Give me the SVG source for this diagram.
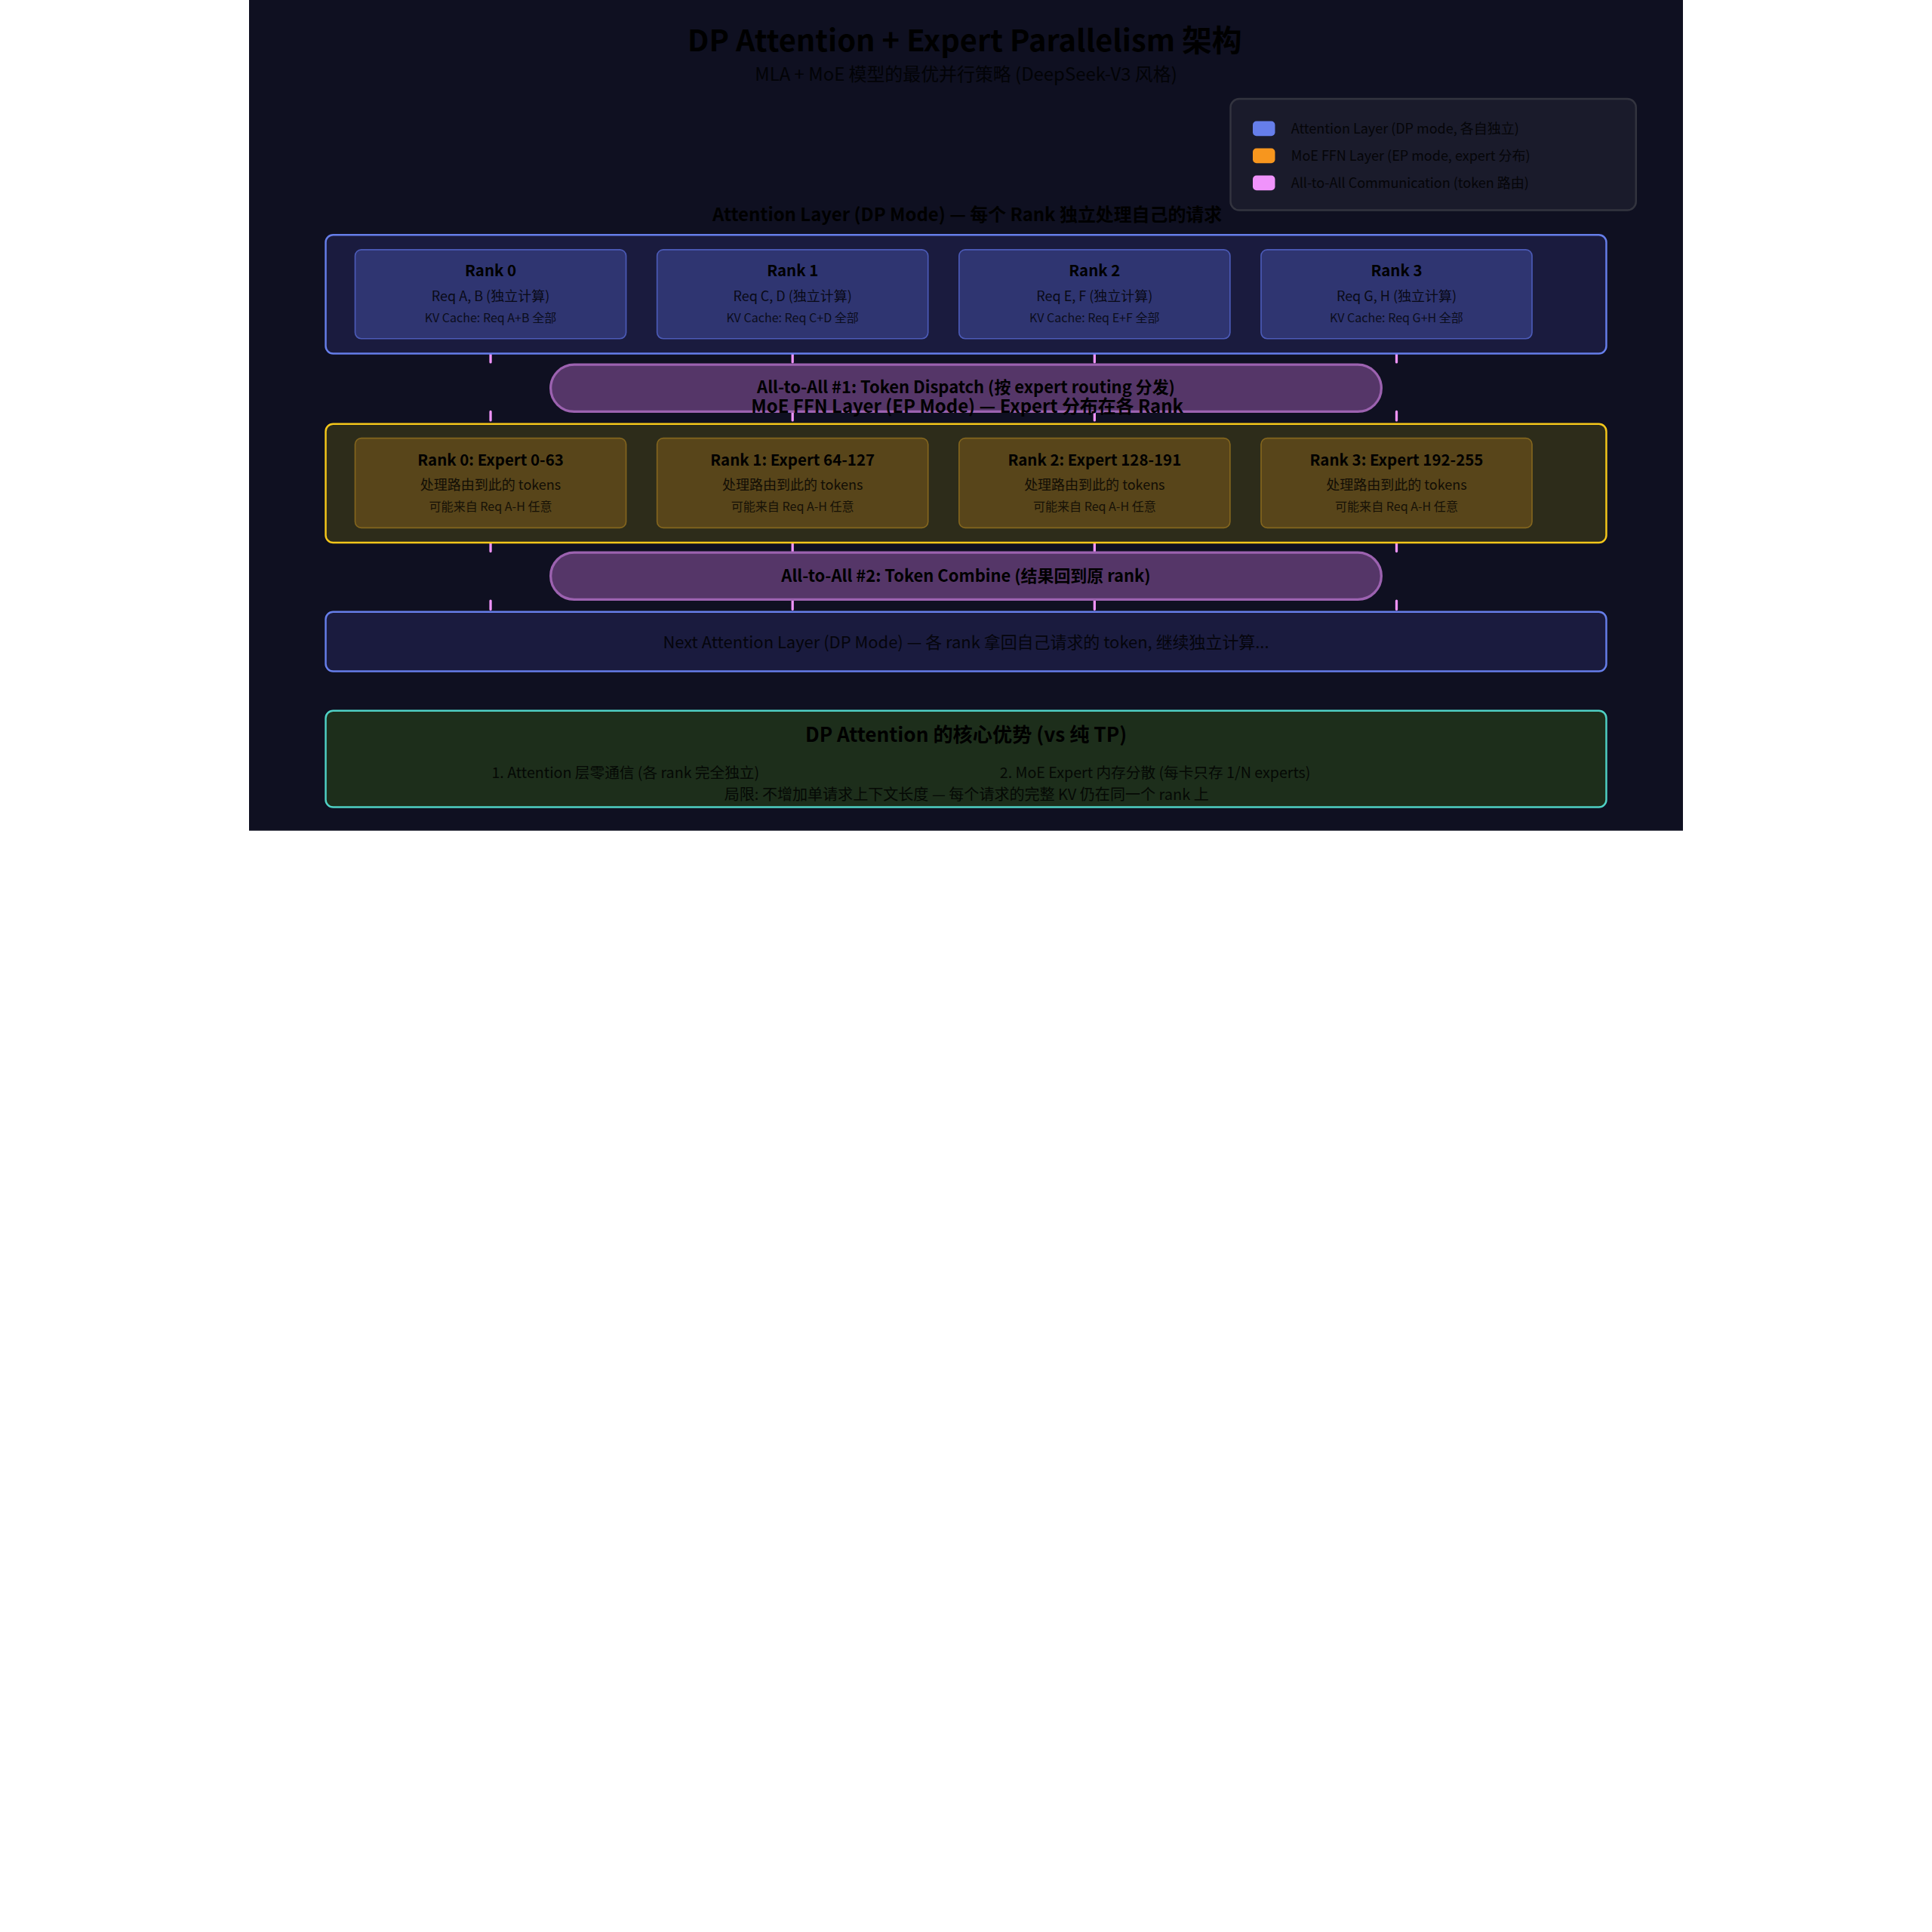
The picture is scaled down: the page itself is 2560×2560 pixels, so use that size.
<svg xmlns="http://www.w3.org/2000/svg" width="2560" height="2560" viewBox="0 0 2560 2560">
<style>
text { font-family: "Noto Sans CJK SC", "Noto Sans", sans-serif; fill: #000; }
.c { text-anchor: middle; }
.title { font-size: 24.3px; font-weight: 700; }
.sub { font-size: 14.6px; opacity: .8; }
.sec { font-size: 14.6px; font-weight: 700; }
.leg { font-size: 11px; opacity: .8; }
.rt { font-size: 12.5px; font-weight: 700; }
.rd { font-size: 11px; opacity: .8; }
.rs { font-size: 9.8px; opacity: .75; }
.pt { font-size: 13.4px; font-weight: 700; }
.nx { font-size: 13.4px; opacity: .8; }
.bt { font-size: 16px; font-weight: 700; }
.bd { font-size: 12px; opacity: .8; }
.bl { font-size: 12.25px; opacity: .8; }
.layer-attn { fill: #1a1b3e; stroke: #667eea; stroke-width: 1.5; }
.layer-moe { fill: #2d2c1a; stroke: #f5c71a; stroke-width: 1.5; }
.rank { fill: #2f3571; stroke: #4c5bb8; stroke-width: 1; }
.expert { fill: #58451a; stroke: #84661e; stroke-width: 1; }
.pill { fill: #553668; stroke: #9c62b0; stroke-width: 2; }
.tick { stroke: #f093fb; stroke-width: 2; stroke-linecap: round; stroke-dasharray: 7 40; fill: none; }
</style>
<rect x="0" y="0" width="2560" height="2560" fill="#ffffff"/>
<g transform="translate(330 0) scale(1.637931)">
  <rect id="background" x="0" y="0" width="1160" height="672" fill="#0f1021"/>

  <g id="title">
    <text class="title c" x="579" y="41.5">DP Attention + Expert Parallelism 架构</text>
    <text class="sub c" x="580" y="65.5">MLA + MoE 模型的最优并行策略 (DeepSeek-V3 风格)</text>
  </g>

  <g id="legend">
    <rect x="794" y="80" width="328" height="90" rx="7" fill="#1a1b2b" stroke="#33343f" stroke-width="1.5"/>
    <rect x="812" y="98" width="18" height="12" rx="3" fill="#667eea"/>
    <text class="leg" x="843" y="108.3">Attention Layer (DP mode, 各自独立)</text>
    <rect x="812" y="120" width="18" height="12" rx="3" fill="#f7961e"/>
    <text class="leg" x="843" y="130.3">MoE FFN Layer (EP mode, expert 分布)</text>
    <rect x="812" y="142" width="18" height="12" rx="3" fill="#f093fb"/>
    <text class="leg" x="843" y="152.3">All-to-All Communication (token 路由)</text>
  </g>

  <g id="connectors">
    <line class="tick" x1="195.4" y1="286" x2="195.4" y2="343"/>
    <line class="tick" x1="439.7" y1="286" x2="439.7" y2="343"/>
    <line class="tick" x1="684" y1="286" x2="684" y2="343"/>
    <line class="tick" x1="928.3" y1="286" x2="928.3" y2="343"/>
    <line class="tick" x1="195.4" y1="439" x2="195.4" y2="495"/>
    <line class="tick" x1="439.7" y1="439" x2="439.7" y2="495"/>
    <line class="tick" x1="684" y1="439" x2="684" y2="495"/>
    <line class="tick" x1="928.3" y1="439" x2="928.3" y2="495"/>
  </g>

  <g id="attention-layer">
    <text class="sec c" x="581" y="179">Attention Layer (DP Mode) — 每个 Rank 独立处理自己的请求</text>
    <rect class="layer-attn" x="62" y="190" width="1036" height="96" rx="6"/>
  </g>
  <g id="attn-rank0">
    <rect class="rank" x="85.8" y="202" width="219.2" height="72" rx="5"/>
    <text class="rt c" x="195.4" y="223.5">Rank 0</text>
    <text class="rd c" x="195.4" y="243.5">Req A, B (独立计算)</text>
    <text class="rs c" x="195.4" y="260.5">KV Cache: Req A+B 全部</text>
  </g>
  <g id="attn-rank1">
    <rect class="rank" x="330.1" y="202" width="219.2" height="72" rx="5"/>
    <text class="rt c" x="439.7" y="223.5">Rank 1</text>
    <text class="rd c" x="439.7" y="243.5">Req C, D (独立计算)</text>
    <text class="rs c" x="439.7" y="260.5">KV Cache: Req C+D 全部</text>
  </g>
  <g id="attn-rank2">
    <rect class="rank" x="574.4" y="202" width="219.2" height="72" rx="5"/>
    <text class="rt c" x="684" y="223.5">Rank 2</text>
    <text class="rd c" x="684" y="243.5">Req E, F (独立计算)</text>
    <text class="rs c" x="684" y="260.5">KV Cache: Req E+F 全部</text>
  </g>
  <g id="attn-rank3">
    <rect class="rank" x="818.7" y="202" width="219.2" height="72" rx="5"/>
    <text class="rt c" x="928.3" y="223.5">Rank 3</text>
    <text class="rd c" x="928.3" y="243.5">Req G, H (独立计算)</text>
    <text class="rs c" x="928.3" y="260.5">KV Cache: Req G+H 全部</text>
  </g>

  <g id="all-to-all-1">
    <rect class="pill" x="244" y="295" width="672" height="38" rx="19"/>
    <text class="pt c" x="580" y="318">All-to-All #1: Token Dispatch (按 expert routing 分发)</text>
  </g>

  <g id="moe-layer">
    <rect class="layer-moe" x="62" y="343" width="1036" height="96" rx="6"/>
    <text class="sec c" x="581" y="334">MoE FFN Layer (EP Mode) — Expert 分布在各 Rank</text>
  </g>
  <g id="expert-rank0">
    <rect class="expert" x="85.8" y="354.5" width="219.2" height="72.5" rx="5"/>
    <text class="rt c" x="195.4" y="376.5">Rank 0: Expert 0-63</text>
    <text class="rd c" x="195.4" y="396.5">处理路由到此的 tokens</text>
    <text class="rs c" x="195.4" y="413.5">可能来自 Req A-H 任意</text>
  </g>
  <g id="expert-rank1">
    <rect class="expert" x="330.1" y="354.5" width="219.2" height="72.5" rx="5"/>
    <text class="rt c" x="439.7" y="376.5">Rank 1: Expert 64-127</text>
    <text class="rd c" x="439.7" y="396.5">处理路由到此的 tokens</text>
    <text class="rs c" x="439.7" y="413.5">可能来自 Req A-H 任意</text>
  </g>
  <g id="expert-rank2">
    <rect class="expert" x="574.4" y="354.5" width="219.2" height="72.5" rx="5"/>
    <text class="rt c" x="684" y="376.5">Rank 2: Expert 128-191</text>
    <text class="rd c" x="684" y="396.5">处理路由到此的 tokens</text>
    <text class="rs c" x="684" y="413.5">可能来自 Req A-H 任意</text>
  </g>
  <g id="expert-rank3">
    <rect class="expert" x="818.7" y="354.5" width="219.2" height="72.5" rx="5"/>
    <text class="rt c" x="928.3" y="376.5">Rank 3: Expert 192-255</text>
    <text class="rd c" x="928.3" y="396.5">处理路由到此的 tokens</text>
    <text class="rs c" x="928.3" y="413.5">可能来自 Req A-H 任意</text>
  </g>

  <g id="all-to-all-2">
    <rect class="pill" x="244" y="447" width="672" height="38" rx="19"/>
    <text class="pt c" x="580" y="470.5">All-to-All #2: Token Combine (结果回到原 rank)</text>
  </g>

  <g id="next-attention-layer">
    <rect class="layer-attn" x="62" y="495" width="1036" height="48" rx="6"/>
    <text class="nx c" x="580" y="524.5">Next Attention Layer (DP Mode) — 各 rank 拿回自己请求的 token, 继续独立计算...</text>
  </g>

  <g id="advantages">
    <rect x="62" y="575" width="1036" height="78" rx="6" fill="#1d2e1b" stroke="#4fd1c5" stroke-width="1.5"/>
    <text class="bt c" x="580" y="600">DP Attention 的核心优势 (vs 纯 TP)</text>
    <text class="bd c" x="304.5" y="629.5">1. Attention 层零通信 (各 rank 完全独立)</text>
    <text class="bd c" x="733" y="629.5">2. MoE Expert 内存分散 (每卡只存 1/N experts)</text>
    <text class="bl c" x="580.5" y="647">局限: 不增加单请求上下文长度 — 每个请求的完整 KV 仍在同一个 rank 上</text>
  </g>
</g>
</svg>
